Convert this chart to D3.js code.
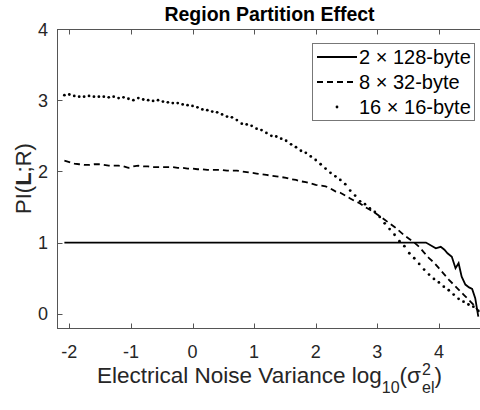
<!DOCTYPE html>
<html>
<head>
<meta charset="utf-8">
<script src="https://cdn.jsdelivr.net/npm/d3@7"></script>
<style>
  body { margin: 0; background: #fff; }
  svg { display: block; font-family: "Liberation Sans", Arial, sans-serif; }
</style>
</head>
<body>
<svg width="480" height="410"></svg>
<script>
// log10 of the electrical noise variance (shared x grid)
const noiseLog = [
  -2.08, -2.00, -1.92, -1.84, -1.76, -1.68, -1.60, -1.52, -1.44, -1.36,
  -1.28, -1.20, -1.12, -1.04, -0.96, -0.88, -0.80, -0.72, -0.64, -0.56,
  -0.48, -0.40, -0.32, -0.24, -0.16, -0.08, 0.00, 0.08, 0.16, 0.24,
  0.32, 0.40, 0.48, 0.56, 0.64, 0.72, 0.80, 0.88, 0.96, 1.04,
  1.12, 1.20, 1.28, 1.36, 1.44, 1.52, 1.60, 1.68, 1.76, 1.84,
  1.92, 2.00, 2.08, 2.16, 2.24, 2.32, 2.40, 2.48, 2.56, 2.64,
  2.72, 2.80, 2.88, 2.96, 3.04, 3.12, 3.20, 3.28, 3.36, 3.44,
  3.52, 3.60, 3.68, 3.76, 3.84, 3.92, 4.00, 4.08, 4.16, 4.24,
  4.32, 4.40, 4.48, 4.56, 4.64
];

// 16 x 16-byte partition
const pi16x16 = [
  3.07, 3.08, 3.06, 3.05, 3.05, 3.06, 3.05, 3.05, 3.05, 3.04,
  3.05, 3.03, 3.04, 3.02, 3.00, 3.03, 3.01, 3.00, 2.99, 3.00,
  2.98, 2.97, 2.96, 2.96, 2.94, 2.93, 2.92, 2.90, 2.87, 2.86,
  2.84, 2.83, 2.80, 2.77, 2.76, 2.72, 2.67, 2.66, 2.64, 2.60,
  2.58, 2.54, 2.50, 2.49, 2.46, 2.43, 2.38, 2.34, 2.29, 2.26,
  2.21, 2.16, 2.10, 2.04, 1.98, 1.93, 1.88, 1.82, 1.73, 1.66,
  1.58, 1.54, 1.48, 1.43, 1.36, 1.27, 1.19, 1.11, 1.02, 0.95,
  0.85, 0.78, 0.70, 0.62, 0.55, 0.49, 0.44, 0.38, 0.33, 0.27,
  0.21, 0.17, 0.13, 0.10, 0.04
];

// 8 x 32-byte partition
const pi8x32 = [
  2.15, 2.13, 2.11, 2.10, 2.09, 2.09, 2.10, 2.10, 2.09, 2.08,
  2.08, 2.08, 2.07, 2.05, 2.07, 2.08, 2.07, 2.07, 2.06, 2.06,
  2.06, 2.06, 2.06, 2.05, 2.05, 2.04, 2.04, 2.03, 2.03, 2.02,
  2.02, 2.02, 2.02, 2.01, 2.01, 2.01, 2.00, 1.99, 1.98, 1.97,
  1.96, 1.95, 1.94, 1.93, 1.92, 1.91, 1.89, 1.88, 1.86, 1.85,
  1.83, 1.81, 1.80, 1.79, 1.76, 1.72, 1.70, 1.66, 1.62, 1.58,
  1.55, 1.50, 1.46, 1.42, 1.37, 1.32, 1.27, 1.22, 1.16, 1.10,
  1.05, 1.00, 0.94, 0.86, 0.78, 0.72, 0.64, 0.56, 0.48, 0.41,
  0.34, 0.27, 0.20, 0.13, 0.04
];

// 2 x 128-byte partition (own x grid: flat until the tail)
const noiseLog2x128 = [
  -2.08, 3.68, 3.79, 3.95, 4.03, 4.09, 4.14, 4.21, 4.27, 4.32,
  4.37, 4.43, 4.49, 4.54, 4.59, 4.64
];
const pi2x128 = [
  1.00, 1.00, 1.00, 0.92, 0.94, 0.90, 0.85, 0.80, 0.64, 0.71,
  0.52, 0.41, 0.37, 0.35, 0.22, -0.04
];

const seriesNames = ["2 \u00d7 128-byte", "8 \u00d7 32-byte", "16 \u00d7 16-byte"];
const xTicks = [-2, -1, 0, 1, 2, 3, 4];
const yTicks = [0, 1, 2, 3, 4];

const svg = d3.select("svg");

// plot area
const area = { left: 57, right: 482, top: 29, bottom: 328 };

const scX = d3.scaleLinear().domain([-2.2, 4.7]).range([area.left, area.right]);
const scY = d3.scaleLinear().domain([-0.2, 4]).range([area.bottom, area.top]);

function drawAxes() {
    const tick = 5;
    const axisColor = "#555";
    const g = svg.append("g");

    // box
    g.append("rect")
        .attr("x", area.left + 0.5)
        .attr("y", area.top + 0.5)
        .attr("width", area.right - area.left)
        .attr("height", area.bottom - area.top)
        .attr("fill", "none")
        .attr("stroke", axisColor)
        .attr("stroke-width", 1);

    // x ticks, bottom and top, pointing inwards
    xTicks.forEach(t => {
        const x = Math.round(scX(t)) + 0.5;
        g.append("line").attr("x1", x).attr("x2", x)
            .attr("y1", area.bottom + 0.5).attr("y2", area.bottom + 0.5 - tick)
            .attr("stroke", axisColor);
        g.append("line").attr("x1", x).attr("x2", x)
            .attr("y1", area.top + 0.5).attr("y2", area.top + 0.5 + tick)
            .attr("stroke", axisColor);
        g.append("text")
            .attr("x", scX(t))
            .attr("y", 358)
            .attr("text-anchor", "middle")
            .attr("font-size", 18)
            .attr("fill", "#262626")
            .text(t);
    });

    yTicks.forEach(t => {
        const y = Math.round(scY(t)) + 0.5;
        g.append("line").attr("x1", area.left + 0.5).attr("x2", area.left + 0.5 + tick)
            .attr("y1", y).attr("y2", y)
            .attr("stroke", axisColor);
        g.append("text")
            .attr("x", 48)
            .attr("y", scY(t) + 6.5)
            .attr("text-anchor", "end")
            .attr("font-size", 18)
            .attr("fill", "#262626")
            .text(t);
    });
}

function drawSeries() {
    const g = svg.append("g");

    const line = d3.line()
        .x(d => scX(d[0]))
        .y(d => scY(d[1]));

    // solid
    g.append("path")
        .datum(noiseLog2x128.map((x, i) => [x, pi2x128[i]]))
        .attr("d", line)
        .attr("fill", "none")
        .attr("stroke", "#000")
        .attr("stroke-width", 1.8);

    // dashed
    g.append("path")
        .datum(noiseLog.map((x, i) => [x, pi8x32[i]]))
        .attr("d", line)
        .attr("fill", "none")
        .attr("stroke", "#000")
        .attr("stroke-width", 1.8)
        .attr("stroke-dasharray", "6,4");

    // dots
    g.selectAll(".dot")
        .data(noiseLog.map((x, i) => [x, pi16x16[i]]))
        .enter()
        .append("circle")
        .attr("cx", d => scX(d[0]))
        .attr("cy", d => scY(d[1]))
        .attr("r", 1.4)
        .attr("fill", "#000");
}

function drawLegend() {
    const box = { x: 312, y: 43, w: 162, h: 77 };
    const g = svg.append("g");

    g.append("rect")
        .attr("x", box.x + 0.5).attr("y", box.y + 0.5)
        .attr("width", box.w).attr("height", box.h)
        .attr("fill", "#fff")
        .attr("stroke", "#777");

    const rowY = [57, 82, 107];
    seriesNames.forEach((name, i) => {
        if (i === 2) {
            g.append("circle")
                .attr("cx", 337).attr("cy", rowY[i])
                .attr("r", 1.4).attr("fill", "#000");
        } else {
            g.append("line")
                .attr("x1", 317).attr("x2", 357)
                .attr("y1", rowY[i]).attr("y2", rowY[i])
                .attr("stroke", "#000")
                .attr("stroke-width", 1.8)
                .attr("stroke-dasharray", i === 1 ? "6,4" : null);
        }
        g.append("text")
            .attr("x", 359)
            .attr("y", rowY[i] + 7)
            .attr("font-size", 20)
            .attr("fill", "#000")
            .text(name);
    });
}

function drawLabels() {
    // title
    svg.append("text")
        .attr("x", (area.left + area.right) / 2)
        .attr("y", 21)
        .attr("text-anchor", "middle")
        .attr("font-size", 19.5)
        .attr("font-weight", "bold")
        .attr("fill", "#000")
        .text("Region Partition Effect");

    // y label: PI(L;R) with bold L
    const yl = svg.append("text")
        .attr("transform", `translate(31, ${(area.top + area.bottom) / 2}) rotate(-90)`)
        .attr("text-anchor", "middle")
        .attr("font-size", 22)
        .attr("fill", "#262626");
    yl.append("tspan").text("PI(");
    yl.append("tspan").attr("font-weight", "bold").text("L");
    yl.append("tspan").text(";R)");

    // x label built piece by piece so the stacked super/subscript line up
    const g = svg.append("g").attr("fill", "#262626");
    const base = 383;
    let cx = 0;
    function piece(str, size, dy) {
        const t = g.append("text")
            .attr("x", cx).attr("y", base + dy)
            .attr("font-size", size)
            .text(str);
        return t;
    }
    let t = piece("Electrical Noise Variance log", 22.5, 0);
    cx += t.node().getComputedTextLength();
    t = piece("10", 16, 10);
    cx += t.node().getComputedTextLength();
    t = piece("(\u03c3", 22.5, 0);
    cx += t.node().getComputedTextLength() + 1;
    const sup = piece("2", 16, -8);
    const sub = piece("el", 16, 10);
    cx += Math.max(sup.node().getComputedTextLength(), sub.node().getComputedTextLength());
    t = piece(")", 22.5, 0);
    cx += t.node().getComputedTextLength();

    // center under the axes
    g.attr("transform", `translate(${(area.left + area.right) / 2 - cx / 2}, 0)`);
}

drawAxes();
drawSeries();
drawLegend();
drawLabels();
</script>
</body>
</html>
